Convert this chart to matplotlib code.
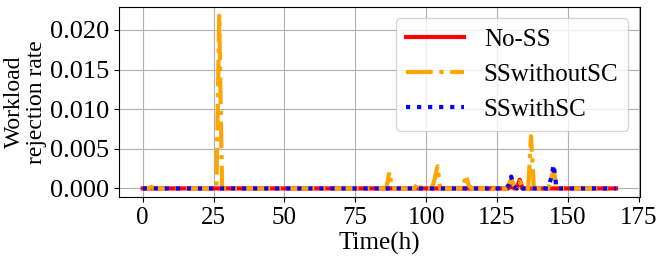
import numpy as np
import matplotlib
matplotlib.use("Agg")
import matplotlib.pyplot as plt

plt.rcParams['font.family'] = ['Liberation Serif', 'DejaVu Serif']

n_hours = 168
hours = np.arange(n_hours)

# Non-zero readings (hour -> rejection rate); all other hours are 0
no_ss_hours = [130, 133]
no_ss_vals = [0.0003, 0.0011]

ss_without_sc_hours = [3, 27, 87, 97, 103, 104, 114, 115, 122, 129, 130, 131, 133, 137, 144, 145]
ss_without_sc_vals = [0.0002, 0.0218, 0.0021, 0.0008, 0.0012, 0.0028, 0.0017, 0.0004, 0.0003,
                      0.0004, 0.0012, 0.0004, 0.0009, 0.0066, 0.0010, 0.0025]

ss_with_sc_hours = [129, 130, 131, 133, 144, 145]
ss_with_sc_vals = [0.0003, 0.0015, 0.0003, 0.0004, 0.0012, 0.0030]

labels = ["No-SS", "SSwithoutSC", "SSwithSC"]


def build(h, v):
    s = np.zeros(n_hours)
    s[h] = v
    return s


no_ss = build(no_ss_hours, no_ss_vals)
ss_without = build(ss_without_sc_hours, ss_without_sc_vals)
ss_with = build(ss_with_sc_hours, ss_with_sc_vals)

fig = plt.figure(figsize=(6.65, 2.6), dpi=100)
ax = fig.add_axes([0.179, 0.242, 0.783, 0.731])

ax.plot(hours, no_ss, color='red', linestyle='-', lw=3, label=labels[0])
ax.plot(hours, ss_without, color='orange', linestyle='-.', lw=3, label=labels[1])
ax.plot(hours, ss_with, color='blue', linestyle=':', lw=3, label=labels[2])

ax.set_xticks(np.arange(0, 176, 25))
ax.set_yticks([0.0, 0.005, 0.010, 0.015, 0.020])
ax.yaxis.set_major_formatter(matplotlib.ticker.FormatStrFormatter('%.3f'))
ax.tick_params(axis='x', labelsize=18)
ax.tick_params(axis='y', labelsize=19)
ax.grid(True)
ax.set_xlabel("Time(h)", fontsize=18, labelpad=2)
ax.set_ylabel("Workload\nrejection rate", fontsize=17, labelpad=2, linespacing=1.1)
ax.legend(loc='upper right', fontsize=18, handlelength=2.3, borderaxespad=0.45)

fig.savefig("out.png", dpi=100)
